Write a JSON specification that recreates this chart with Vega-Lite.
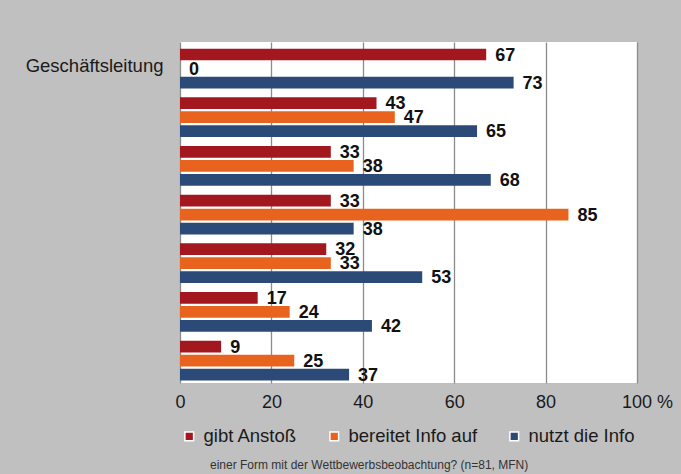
{
  "$schema": "https://vega.github.io/schema/vega-lite/v6.json",
  "background": "#c0c0c0",
  "padding": {"left": 25, "top": 42, "right": 30, "bottom": 10},
  "config": {"view": {"stroke": null}, "font": "Liberation Sans"},
  "width": 457,
  "height": 341,
  "view": {"fill": "white", "stroke": null},
  "title": {
    "text": "einer Form mit der Wettbewerbsbeobachtung? (n=81, MFN)",
    "orient": "bottom",
    "anchor": "start",
    "frame": "group",
    "dx": 30,
    "offset": 14,
    "fontSize": 12,
    "fontWeight": "normal",
    "color": "#333333",
    "font": "Liberation Sans"
  },
  "data": {
    "values": [
      {"cat": "Geschäftsleitung", "series": "gibt Anstoß", "value": 67},
      {"cat": "Geschäftsleitung", "series": "bereitet Info auf", "value": 0},
      {"cat": "Geschäftsleitung", "series": "nutzt die Info", "value": 73},
      {"cat": "2", "series": "gibt Anstoß", "value": 43},
      {"cat": "2", "series": "bereitet Info auf", "value": 47},
      {"cat": "2", "series": "nutzt die Info", "value": 65},
      {"cat": "3", "series": "gibt Anstoß", "value": 33},
      {"cat": "3", "series": "bereitet Info auf", "value": 38},
      {"cat": "3", "series": "nutzt die Info", "value": 68},
      {"cat": "4", "series": "gibt Anstoß", "value": 33},
      {"cat": "4", "series": "bereitet Info auf", "value": 85},
      {"cat": "4", "series": "nutzt die Info", "value": 38},
      {"cat": "5", "series": "gibt Anstoß", "value": 32},
      {"cat": "5", "series": "bereitet Info auf", "value": 33},
      {"cat": "5", "series": "nutzt die Info", "value": 53},
      {"cat": "6", "series": "gibt Anstoß", "value": 17},
      {"cat": "6", "series": "bereitet Info auf", "value": 24},
      {"cat": "6", "series": "nutzt die Info", "value": 42},
      {"cat": "7", "series": "gibt Anstoß", "value": 9},
      {"cat": "7", "series": "bereitet Info auf", "value": 25},
      {"cat": "7", "series": "nutzt die Info", "value": 37}
    ]
  },
  "encoding": {
    "y": {
      "field": "cat",
      "type": "nominal",
      "sort": ["Geschäftsleitung", "2", "3", "4", "5", "6", "7"],
      "scale": {"paddingInner": 0.184, "paddingOuter": 0.095, "align": 0.72},
      "axis": {
        "title": null,
        "ticks": false,
        "domain": false,
        "labelFontSize": 18.5,
        "labelColor": "#1a1a1a",
        "labelFont": "Liberation Sans",
        "labelPadding": 17,
        "labelOffset": -3,
        "labelExpr": "datum.value == 'Geschäftsleitung' ? datum.value : ''"
      }
    },
    "yOffset": {
      "field": "series",
      "type": "nominal",
      "sort": ["gibt Anstoß", "bereitet Info auf", "nutzt die Info"],
      "scale": {"paddingInner": 0.164, "paddingOuter": 0}
    },
    "x": {
      "field": "value",
      "type": "quantitative",
      "scale": {"domain": [0, 100], "nice": false},
      "axis": {
        "values": [0, 20, 40, 60, 80, 100],
        "title": null,
        "ticks": false,
        "domain": false,
        "grid": true,
        "gridColor": "#8c8c8c",
        "gridWidth": 1.3,
        "labelFlush": false,
        "labelFontSize": 18,
        "labelColor": "#1a1a1a",
        "labelFont": "Liberation Sans",
        "labelPadding": 10,
        "labelOffset": {"condition": {"test": "datum.value == 100", "value": 10}, "value": 0},
        "labelExpr": "datum.value == 100 ? '100 %' : datum.label"
      }
    }
  },
  "layer": [
    {
      "mark": {"type": "bar"},
      "encoding": {
        "color": {
          "field": "series",
          "type": "nominal",
          "sort": ["gibt Anstoß", "bereitet Info auf", "nutzt die Info"],
          "scale": {
            "domain": ["gibt Anstoß", "bereitet Info auf", "nutzt die Info"],
            "range": ["#a3171f", "#e8641e", "#2b4a78"]
          },
          "legend": {
            "orient": "bottom",
            "direction": "horizontal",
            "title": null,
            "symbolType": "square",
            "symbolSize": 76,
            "symbolStrokeColor": "white",
            "symbolStrokeWidth": 1.5,
            "symbolOpacity": 1,
            "labelFontSize": 18.5,
            "labelColor": "#1a1a1a",
            "labelFont": "Liberation Sans",
            "columnPadding": 27,
            "labelOffset": 5,
            "offset": 16
          }
        }
      }
    },
    {
      "mark": {
        "type": "text",
        "align": "left",
        "baseline": "middle",
        "dx": 9,
        "dy": 1,
        "fontSize": 18,
        "fontWeight": "bold",
        "font": "Liberation Sans",
        "color": "#111111"
      },
      "encoding": {
        "text": {"field": "value", "type": "quantitative"}
      }
    }
  ]
}
